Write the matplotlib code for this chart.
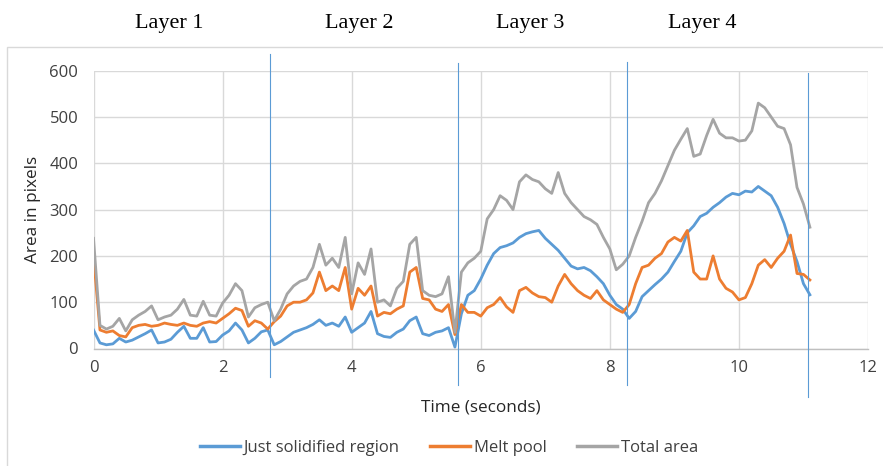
import numpy as np
import matplotlib
matplotlib.use("Agg")
import matplotlib.pyplot as plt
from matplotlib.patches import Rectangle

# ---------------- data ----------------
time_s = np.round(np.arange(0, 11.15, 0.1), 2)

just_solidified = [
    40, 12, 8, 10, 22, 14, 18, 25, 32, 40,
    12, 14, 20, 35, 48, 22, 22, 45, 14, 15,
    29, 38, 55, 40, 12, 22, 36, 40, 8, 15,
    25, 35, 40, 45, 52, 62, 50, 55, 48, 68,
    35, 45, 55, 80, 32, 26, 24, 35, 42, 60,
    68, 32, 28, 35, 38, 45, 3, 75, 115, 125,
    150, 180, 205, 218, 222, 228, 240, 248, 252, 255,
    238, 225, 212, 195, 178, 172, 175, 168, 155, 140,
    115, 95, 85, 65, 80, 112, 125, 138, 150, 165,
    188, 210, 250, 265, 285, 292, 305, 315, 327, 335,
    332, 340, 338, 350, 340, 330, 305, 270, 225, 188,
    140, 116]

melt_pool = [
    200, 40, 35, 38, 28, 25, 45, 50, 52, 48,
    50, 55, 52, 50, 55, 50, 48, 55, 58, 55,
    65, 75, 87, 82, 48, 60, 55, 42, 58, 70,
    92, 100, 100, 105, 120, 165, 125, 135, 125, 175,
    85, 130, 115, 135, 70, 78, 75, 85, 92, 165,
    175, 108, 105, 85, 80, 95, 30, 95, 78, 78,
    70, 88, 95, 110, 90, 78, 125, 132, 120, 112,
    110, 100, 135, 160, 140, 125, 115, 108, 125, 105,
    95, 85, 78, 95, 140, 175, 180, 195, 205, 230,
    240, 232, 255, 165, 150, 150, 200, 150, 130, 122,
    105, 110, 140, 180, 192, 175, 195, 210, 245, 162,
    160, 148]

total_area = [
    238, 50, 42, 48, 65, 38, 62, 72, 80, 92,
    62, 68, 72, 85, 106, 72, 70, 102, 72, 70,
    98, 115, 140, 125, 68, 88, 95, 100, 60, 85,
    118, 135, 145, 150, 175, 225, 180, 195, 175, 240,
    118, 185, 160, 215, 100, 105, 92, 130, 145, 225,
    240, 125, 115, 112, 118, 155, 35, 165, 185, 195,
    210, 280, 300, 330, 320, 300, 360, 375, 365, 360,
    345, 335, 380, 335, 315, 300, 285, 278, 268, 240,
    215, 170, 182, 200, 240, 275, 315, 335, 362, 395,
    428, 452, 475, 415, 420, 460, 495, 465, 455, 455,
    448, 450, 470, 530, 520, 500, 480, 475, 440, 348,
    312, 262]

series_names = ["Just solidified region", "Melt pool", "Total area"]
series_colors = ["#5B9BD5", "#ED7D31", "#A5A5A5"]

layer_names = ["Layer 1", "Layer 2", "Layer 3", "Layer 4"]
layer_bounds = [2.74, 5.65, 8.26, 11.07]
layer_line_top = [636, 617, 619, 595]
layer_line_bottom = [-62, -79, -79, -105]

x_ticks = [0, 2, 4, 6, 8, 10, 12]
y_ticks = [0, 100, 200, 300, 400, 500, 600]

# ---------------- figure ----------------
W, H = 883, 466
fig = plt.figure(figsize=(W / 100, H / 100), dpi=100)

# chart-area border
fig.add_artist(Rectangle((7 / W, -0.05), 1.2, 1 - 47 / H + 0.05,
                         transform=fig.transFigure, fill=False,
                         edgecolor="#D9D9D9", linewidth=1.0))

ax_left, ax_right = 93.5 / W, 868 / W
ax_bottom, ax_top = 1 - 348.5 / H, 1 - 70.7 / H
ax = fig.add_axes([ax_left, ax_bottom, ax_right - ax_left, ax_top - ax_bottom])

ax.set_xlim(0, 12)
ax.set_ylim(0, 600)
ax.set_xticks(x_ticks)
ax.set_yticks(y_ticks)
ax.grid(True, color="#D9D9D9", linewidth=1.0)
ax.set_axisbelow(True)
for s in ["top", "right", "left"]:
    ax.spines[s].set_visible(False)
ax.spines["bottom"].set_color("#BFBFBF")
ax.spines["bottom"].set_linewidth(1.0)
ax.tick_params(length=0, labelsize=12, labelcolor="#404040")
ax.tick_params(axis="y", pad=11)
ax.tick_params(axis="x", pad=8)
for lbl in ax.get_xticklabels() + ax.get_yticklabels():
    lbl.set_fontfamily("Open Sans")

for vals, name, col in zip([just_solidified, melt_pool, total_area],
                           series_names, series_colors):
    ax.plot(time_s, vals, color=col, linewidth=2.0, label=name,
            solid_joinstyle="round")

# layer boundary lines
for xb, yt, yb in zip(layer_bounds, layer_line_top, layer_line_bottom):
    ax.plot([xb, xb], [yb, yt], color="#5B9BD5", linewidth=0.8,
            clip_on=False, zorder=5)

ax.set_xlabel("Time (seconds)", fontsize=12.3, fontfamily="Open Sans",
              color="#262626", labelpad=17)
ax.set_ylabel("Area in pixels", fontsize=12.3, fontfamily="Open Sans",
              color="#262626", labelpad=6)

# layer titles
layer_centers_px = [169, 359, 530, 702]
for name, cx in zip(layer_names, layer_centers_px):
    fig.text(cx / W, 1 - 28 / H, name, ha="center", va="baseline",
             fontsize=16, fontfamily="Liberation Serif", color="#000000")

handles, labels = ax.get_legend_handles_labels()
leg = fig.legend(handles, labels, loc="center", ncol=3,
                 bbox_to_anchor=(449 / W, 1 - 448 / H), frameon=False,
                 prop={"family": "Open Sans", "size": 12},
                 handlelength=2.4, handletextpad=0.25, columnspacing=1.8)
for t in leg.get_texts():
    t.set_color("#404040")
for l in leg.get_lines():
    l.set_linewidth(2.5)

fig.savefig("out.png", dpi=100)
